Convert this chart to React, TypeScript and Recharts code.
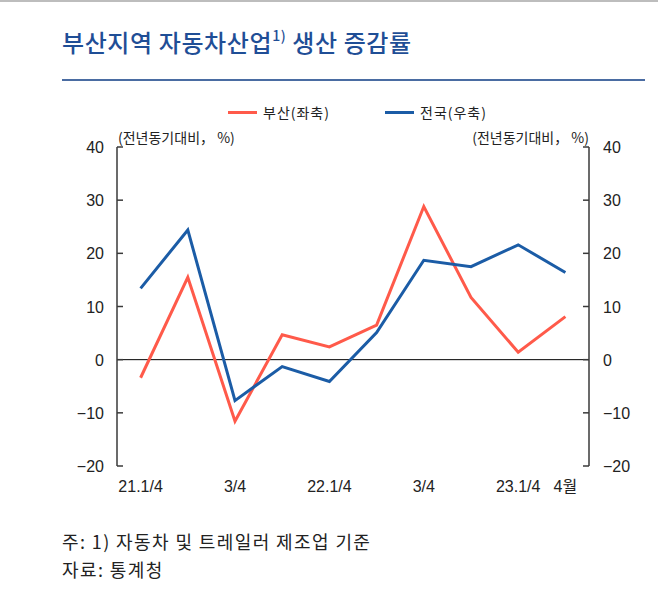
import { LineChart, Line, XAxis, YAxis, ReferenceLine } from "recharts";

const periods = ["21.1/4", "21.2/4", "21.3/4", "21.4/4", "22.1/4", "22.2/4", "22.3/4", "22.4/4", "23.1/4", "23.4"];
const tickLabels = ["21.1/4", "", "3/4", "", "22.1/4", "", "3/4", "", "23.1/4", "4월"];
const busan = [-3.4, 15.5, -11.6, 4.7, 2.4, 6.5, 28.8, 11.7, 1.4, 8.1];
const national = [13.4, 24.4, -7.7, -1.3, -4.1, 5.1, 18.7, 17.5, 21.6, 16.4];
const yTicks = [-20, -10, 0, 10, 20, 30, 40];

const data = periods.map((p, i) => ({
    period: p,
    busan: busan[i],
    national: national[i]
}));

const colors = {
    busan: "#FF5A4A",
    national: "#1B5CA6",
    title: "#1F4E96",
    axis: "#3a3a3a"
};

const numFont = "'Liberation Sans', Arial, 'Noto Sans CJK KR', sans-serif";
const krFont = "'Noto Sans CJK KR', 'Liberation Sans', sans-serif";

const fmt = (v: number) => (v < 0 ? "\u2212" + Math.abs(v) : String(v));

function LeftTick(props: any) {
    const { x, y, payload } = props;
    return (
        <g>
            <line x1={x} x2={x + 6} y1={y} y2={y} stroke={colors.axis} strokeWidth={1.5} />
            <text x={x - 13} y={y} dy={6} textAnchor="end" fontSize={16} fill="#222" fontFamily={numFont}>
                {fmt(payload.value)}
            </text>
        </g>
    );
}

function RightTick(props: any) {
    const { x, y, payload } = props;
    return (
        <g>
            <line x1={x - 6} x2={x} y1={y} y2={y} stroke={colors.axis} strokeWidth={1.5} />
            <text x={x + 14} y={y} dy={6} textAnchor="start" fontSize={16} fill="#222" fontFamily={numFont}>
                {fmt(payload.value)}
            </text>
        </g>
    );
}

function XTick(props: any) {
    const { x, y, index } = props;
    return (
        <text x={x} y={y} dy={18} textAnchor="middle" fontSize={16} fill="#222" fontFamily={numFont}>
            {tickLabels[index]}
        </text>
    );
}

const legendItems = [
    { label: "부산(좌축)", color: colors.busan, x: 228 },
    { label: "전국(우축)", color: colors.national, x: 385 }
];

export default function App() {
    return (
        <div style={{ position: "absolute", left: 0, top: 0, width: 658, height: 607, background: "#fff", overflow: "hidden" }}>
            <div style={{ position: "absolute", left: 0, top: 0, width: 658, height: 2, background: "#bdbdbd" }} />
            <div
                style={{
                    position: "absolute",
                    left: 62,
                    top: 25,
                    fontFamily: krFont,
                    fontSize: 24,
                    fontWeight: 500,
                    letterSpacing: 0.6,
                    color: colors.title,
                    whiteSpace: "nowrap",
                    lineHeight: "34px"
                }}
            >
                부산지역 자동차산업<sup style={{ fontSize: 14, verticalAlign: "top", lineHeight: "20px" }}>1)</sup> 생산 증감률
            </div>
            <div style={{ position: "absolute", left: 62, top: 79, width: 583, height: 2, background: "#4A6CA2" }} />

            {legendItems.map((it) => (
                <div
                    key={it.label}
                    style={{
                        position: "absolute",
                        left: it.x,
                        top: 102,
                        height: 20,
                        display: "flex",
                        alignItems: "center",
                        fontFamily: krFont,
                        fontSize: 14,
                        letterSpacing: 1,
                        color: "#222",
                        whiteSpace: "nowrap"
                    }}
                >
                    <span style={{ display: "inline-block", width: 29, height: 3, background: it.color, marginRight: 6 }} />
                    {it.label}
                </div>
            ))}

            <div style={{ position: "absolute", left: 118, top: 127, fontFamily: krFont, fontSize: 14, color: "#222", whiteSpace: "nowrap" }}>
                (전년동기대비， %)
            </div>
            <div style={{ position: "absolute", right: 658 - 589, top: 127, fontFamily: krFont, fontSize: 14, color: "#222", whiteSpace: "nowrap" }}>
                (전년동기대비， %)
            </div>

            <div style={{ position: "absolute", left: 0, top: 0 }}>
                <LineChart width={658} height={520} data={data} margin={{ top: 147, right: 0, left: 0, bottom: 24 }}>
                    <XAxis
                        dataKey="period"
                        interval={0}
                        tick={<XTick />}
                        tickLine={false}
                        axisLine={false}
                        height={30}
                        padding={{ left: 23.6, right: 23.6 }}
                    />
                    <YAxis
                        yAxisId="left"
                        orientation="left"
                        width={117}
                        domain={[-20, 40]}
                        ticks={yTicks}
                        interval={0}
                        tickSize={0}
                        tickMargin={0}
                        tickLine={false}
                        tick={<LeftTick />}
                        axisLine={{ stroke: colors.axis, strokeWidth: 1.5 }}
                    />
                    <YAxis
                        yAxisId="right"
                        orientation="right"
                        width={69}
                        domain={[-20, 40]}
                        ticks={yTicks}
                        interval={0}
                        tickSize={0}
                        tickMargin={0}
                        tickLine={false}
                        tick={<RightTick />}
                        axisLine={{ stroke: colors.axis, strokeWidth: 1.5 }}
                    />
                    <ReferenceLine yAxisId="left" y={0} stroke="#000" strokeWidth={1} />
                    <Line
                        yAxisId="left"
                        type="linear"
                        dataKey="busan"
                        stroke={colors.busan}
                        strokeWidth={3}
                        dot={false}
                        isAnimationActive={false}
                    />
                    <Line
                        yAxisId="right"
                        type="linear"
                        dataKey="national"
                        stroke={colors.national}
                        strokeWidth={3}
                        dot={false}
                        isAnimationActive={false}
                    />
                </LineChart>
            </div>

            <div
                style={{
                    position: "absolute",
                    left: 62,
                    top: 527,
                    fontFamily: krFont,
                    fontSize: 18,
                    letterSpacing: 1.4,
                    color: "#222",
                    lineHeight: "28px",
                    whiteSpace: "nowrap"
                }}
            >
                <div>주: 1) 자동차 및 트레일러 제조업 기준</div>
                <div>자료: 통계청</div>
            </div>
        </div>
    );
}
